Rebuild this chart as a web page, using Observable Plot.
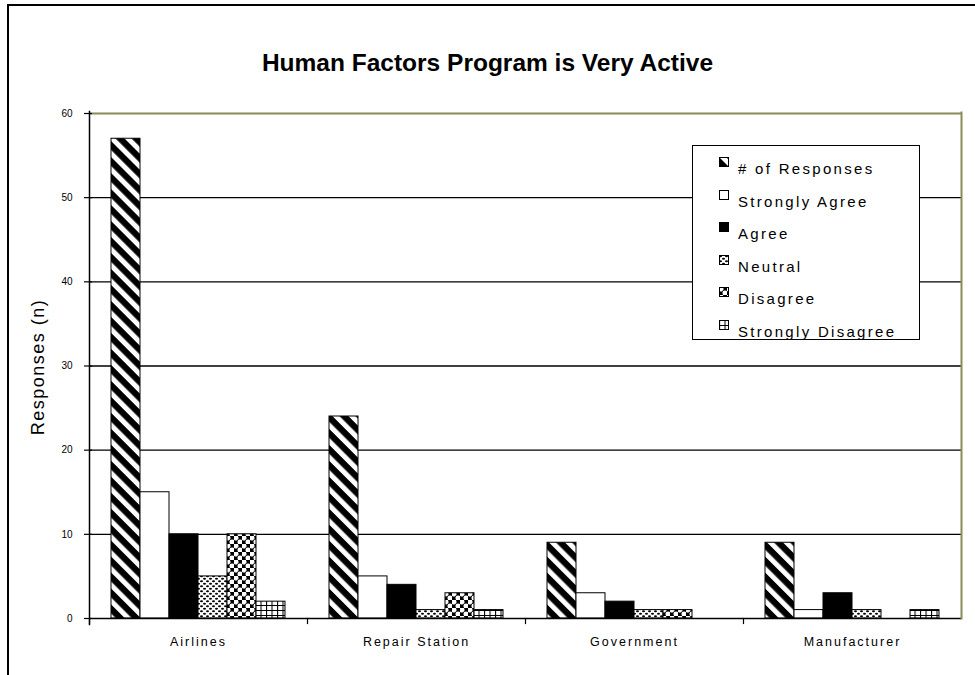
<!DOCTYPE html>
<html>
<head>
<meta charset="utf-8">
<script src="https://cdn.jsdelivr.net/npm/d3@7"></script>
<script src="https://cdn.jsdelivr.net/npm/@observablehq/plot@0.6"></script>
<style>
  body { margin: 0; background: #fff; }
  #page { position: relative; width: 975px; height: 675px; overflow: hidden; background: #fff; font-family: "Liberation Sans", Arial, sans-serif; color: #000; }
  #border { position: absolute; left: 7px; top: 4px; width: 1000px; height: 700px; border-top: 2px solid #000; border-left: 2px solid #000; }
  #title { position: absolute; left: 0; top: 49px; width: 975px; text-align: center; font-family: "Liberation Sans Narrow", "Arial Narrow", "Liberation Sans", sans-serif; font-weight: bold; font-size: 24.5px; }
  #chart { position: absolute; left: 0; top: 0; }
  #ylabel { position: absolute; left: 38px; top: 367px; transform: translate(-50%, -50%) rotate(-90deg); white-space: nowrap; font-size: 18px; letter-spacing: 1.5px; }
  #legend { position: absolute; left: 692px; top: 145px; width: 226px; height: 193px; border: 1.5px solid #000; background: #fff; }
  .row { position: absolute; left: 26px; height: 20px; display: flex; align-items: flex-start; font-size: 15px; letter-spacing: 2.3px; white-space: nowrap; }
  .row svg { margin-right: 8px; margin-top: -3px; }
  #chart g[aria-label="fx-axis tick label"] text { letter-spacing: 2px; }
</style>
</head>
<body>
<!-- fill patterns shared by the bars and the legend swatches -->
<svg width="0" height="0" style="position:absolute">
  <defs>
    <pattern id="pat-resp" width="11.3" height="11.3" patternUnits="userSpaceOnUse" patternTransform="rotate(-45)">
      <rect width="11.3" height="11.3" fill="#000"/>
      <rect x="0" y="0" width="5" height="11.3" fill="#fff"/>
    </pattern>
    <pattern id="pat-sagree" width="4" height="4" patternUnits="userSpaceOnUse">
      <rect width="4" height="4" fill="#fff"/>
    </pattern>
    <pattern id="pat-agree" width="4" height="4" patternUnits="userSpaceOnUse">
      <rect width="4" height="4" fill="#000"/>
    </pattern>
    <pattern id="pat-neutral" width="6" height="5" patternUnits="userSpaceOnUse">
      <rect width="6" height="5" fill="#fff"/>
      <ellipse cx="1.5" cy="1.2" rx="1.5" ry="1.05" fill="#000"/>
      <ellipse cx="4.5" cy="3.7" rx="1.5" ry="1.05" fill="#000"/>
    </pattern>
    <pattern id="pat-disagree" width="8" height="8" patternUnits="userSpaceOnUse">
      <rect width="8" height="8" fill="#000"/>
      <circle cx="2" cy="2" r="3" fill="#fff" stroke="#000" stroke-width="0.8"/>
      <circle cx="6" cy="6" r="3" fill="#fff" stroke="#000" stroke-width="0.8"/>
    </pattern>
    <pattern id="pat-sdisagree" width="5.5" height="5" patternUnits="userSpaceOnUse">
      <rect width="5.5" height="5" fill="#fff"/>
      <path d="M0 0.5H5.5M0.5 0V5" stroke="#000" stroke-width="1.1"/>
    </pattern>
  </defs>
</svg>

<div id="page">
  <div id="border"></div>
  <div id="chart"></div>
  <div id="title">Human Factors Program is Very Active</div>
  <div id="ylabel">Responses (n)</div>
  <div id="legend"></div>
</div>

<script>
// Survey categories and response series
const categories = ["Airlines", "Repair Station", "Government", "Manufacturer"];
const seriesNames = ["# of Responses", "Strongly Agree", "Agree", "Neutral", "Disagree", "Strongly Disagree"];

// Counts per category, in series order
const airlines      = [57, 15, 10, 5, 10, 2];
const repairStation = [24,  5,  4, 1,  3, 1];
const government    = [ 9,  3,  2, 1,  1, 0];
const manufacturer  = [ 9,  1,  3, 1,  0, 1];

const yTicks = [0, 10, 20, 30, 40, 50, 60];

// Fill pattern for each series
const patternFills = ["url(#pat-resp)", "url(#pat-sagree)", "url(#pat-agree)", "url(#pat-neutral)", "url(#pat-disagree)", "url(#pat-sdisagree)"];

const valuesByCategory = [airlines, repairStation, government, manufacturer];
const table = categories.flatMap((category, i) =>
  seriesNames.map((series, j) => ({category, series, value: valuesByCategory[i][j]}))
);

const olive = "#8a8a5c";
const W = 975, H = 675, MT = 113, MB = 57, ML = 87, MR = 13;
const innerH = H - MT - MB;

const chart = Plot.plot({
  width: W,
  height: H,
  marginTop: MT,
  marginBottom: MB,
  marginLeft: ML,
  marginRight: MR,
  style: {fontFamily: "'Liberation Sans', Arial, sans-serif", background: "transparent", color: "#000"},
  fx: {domain: categories, padding: 0, label: null},
  x: {domain: seriesNames, paddingInner: 0, paddingOuter: 0.7, axis: null},
  y: {domain: [0, 60], axis: null},
  color: {domain: seriesNames, range: patternFills},
  marks: [
    // horizontal gridlines
    Plot.ruleY(yTicks.filter(v => v > 0 && v < 60), {stroke: "#000", strokeWidth: 1.3}),
    // top edge of the plot area
    Plot.ruleY([60], {stroke: olive, strokeWidth: 2}),
    // clustered bars
    Plot.barY(table.filter(d => d.value > 0), {
      fx: "category", x: "series", y: "value",
      fill: "series", stroke: "#000", strokeWidth: 1
    }),
    // baseline
    Plot.ruleY([0], {stroke: "#000", strokeWidth: 1.5}),
    // value axis line
    Plot.frame({fx: [categories[0]], anchor: "left", stroke: "#000", strokeWidth: 1.5, insetBottom: -6, insetTop: -2}),
    // right edge of the plot area
    Plot.frame({fx: [categories[categories.length - 1]], anchor: "right", stroke: olive, strokeWidth: 2, insetTop: -1}),
    // short ticks separating the category groups
    Plot.frame({anchor: "left", stroke: "#000", strokeWidth: 1.2, insetTop: innerH, insetBottom: -5}),
    Plot.axisY({ticks: yTicks, tickSize: 8, dx: 3, tickPadding: 12, fontSize: 10, label: null, stroke: "#000", strokeWidth: 1.2}),
    Plot.axisFx({anchor: "bottom", tickSize: 0, tickPadding: 19, fontSize: 12.5, label: null})
  ]
});
document.getElementById("chart").appendChild(chart);

// Legend box inside the plot area
const legend = document.getElementById("legend");
seriesNames.forEach((name, i) => {
  const row = document.createElement("div");
  row.className = "row";
  row.style.top = (14 + i * 32.6) + "px";
  row.innerHTML = `<svg width="11" height="11"><rect x="0.5" y="0.5" width="9" height="9" fill="${patternFills[i]}" stroke="#000" stroke-width="1"/></svg><span>${name}</span>`;
  legend.appendChild(row);
});
</script>
</body>
</html>
